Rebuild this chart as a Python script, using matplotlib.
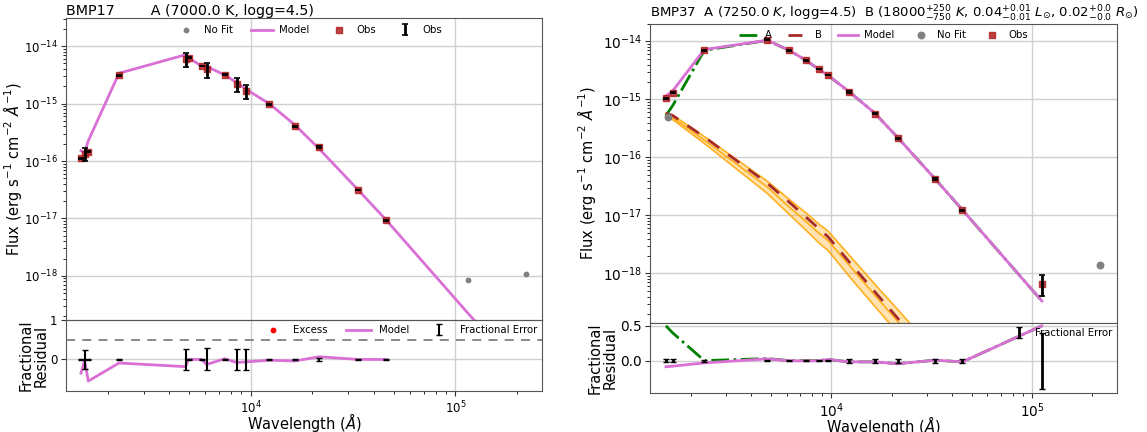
import matplotlib
matplotlib.use("Agg")
import matplotlib.pyplot as plt
import numpy as np

# ---- BMP17 (single A component) ----
wl17 = [1481, 1541, 1608, 2271, 4800, 4970, 5750, 6080, 7470, 8540, 9530, 12350, 16460, 21600, 33500, 46000]
obs17 = [1.12e-16, 1.35e-16, 1.46e-16, 3.1e-15, 6.0e-15, 6.3e-15, 4.5e-15, 3.95e-15, 3.2e-15, 2.16e-15,
         1.66e-15, 9.7e-16, 4.07e-16, 1.75e-16, 3.13e-17, 9.3e-18]
mod17 = [1.51e-16, 1.39e-16, 2.26e-16, 3.38e-15, 7.1e-15, 6.3e-15, 4.5e-15, 4.46e-15, 3.14e-15, 2.33e-15,
         1.76e-15, 9.9e-16, 4.23e-16, 1.63e-16, 3.13e-17, 9.3e-18]
ferr17 = [0.02, 0.25, 0.02, 0.02, 0.27, 0.01, 0.01, 0.28, 0.015, 0.27, 0.27, 0.015, 0.02, 0.03, 0.015, 0.015]
nofit_wl17 = [115600, 220800]
nofit17 = [8.3e-19, 1.07e-18]
nofit_mod17 = [2.2e-19, 1.7e-20]

# ---- BMP37 (A + B components) ----
wl37 = [1500, 1620, 2330, 4800, 6170, 7500, 8650, 9630, 12250, 16500, 21400, 33000, 45000, 112000]
obs37 = [1.06e-15, 1.30e-15, 7.05e-15, 1.08e-14, 7.05e-15, 4.71e-15, 3.33e-15, 2.65e-15, 1.35e-15,
         5.69e-16, 2.13e-16, 4.26e-17, 1.23e-17, 6.7e-19]
mod37 = [1.15e-15, 1.40e-15, 7.26e-15, 1.05e-14, 7.05e-15, 4.71e-15, 3.33e-15, 2.60e-15, 1.37e-15,
         5.78e-16, 2.22e-16, 4.22e-17, 1.25e-17, 3.35e-19]
A37 = [5.3e-16, 7.8e-16, 7.03e-15, 1.046e-14, 7.03e-15, 4.70e-15, 3.32e-15, 2.60e-15, 1.37e-15,
       5.78e-16, 2.22e-16, 4.22e-17, 1.25e-17, 3.35e-19]
B37 = [5.8e-16, 5.3e-16, 2.26e-16, 3.6e-17, 1.7e-17, 9.3e-18, 6.0e-18, 4.3e-18, 1.6e-18,
       4.8e-19, 1.7e-19, 3.0e-20, 8.5e-21, 2.0e-22]
# a few posterior draws of component B (orange band)
B37_hi = [5.8e-16, 5.4e-16, 2.3e-16, 3.9e-17, 1.9e-17, 1.1e-17, 7.2e-18, 5.4e-18, 2.1e-18,
          6.5e-19, 2.4e-19, 4.5e-20, 1.3e-20, 3e-22]
B37_mid = [5.4e-16, 4.9e-16, 2.0e-16, 3.1e-17, 1.4e-17, 7.8e-18, 5.0e-18, 3.7e-18, 1.4e-18,
           4.2e-19, 1.5e-19, 2.7e-20, 7.6e-21, 1.7e-22]
B37_lo = [5.0e-16, 4.5e-16, 1.75e-16, 2.4e-17, 1.05e-17, 5.5e-18, 3.4e-18, 2.5e-18, 9.0e-19,
          2.7e-19, 9.5e-20, 1.6e-20, 4.5e-21, 1e-22]
ferr37 = [0.02, 0.02, 0.015, 0.01, 0.01, 0.01, 0.01, 0.01, 0.03, 0.025, 0.03, 0.03, 0.03, 0.4]
nofit_wl37 = [1541, 218000]
nofit37 = [5.0e-16, 1.41e-18]

title17 = "BMP17        A (7000.0 K, logg=4.5)"
title37 = (r"BMP37  A (7250.0 $K$, logg=4.5)  B (18000$^{+250}_{-750}$ $K$, "
           r"0.04$^{+0.01}_{-0.01}$ $L_{\odot}$, 0.02$^{+0.0}_{-0.0}$ $R_{\odot}$)")

xlim = (1250, 2.65e5)
model_col = "orchid"
obs_col = "#b22222"
grid_col = "#d0d0d0"
leg_fs = 7.3

fig = plt.figure(figsize=(11.47, 4.32), dpi=100)


def style(ax, fs):
    ax.set_xscale("log")
    ax.set_xlim(*xlim)
    ax.grid(True, which="major", color=grid_col, lw=1)
    ax.set_axisbelow(True)
    for s in ax.spines.values():
        s.set_color("#555555")
    ax.tick_params(labelsize=fs, colors="#333333", labelcolor="black", pad=2.5)


def panel(main, res, wl, obs, mod, ferr, fs, ylab_x, rlab_x, xlab_y):
    obs = np.array(obs)
    mod = np.array(mod)
    ferr = np.array(ferr)
    style(main, fs)
    style(res, fs)
    main.set_yscale("log")
    main.tick_params(axis="x", labelbottom=False)
    main.set_ylabel(r"Flux (erg s$^{-1}$ cm$^{-2}$ $\AA^{-1}$)", fontsize=10.5)
    main.yaxis.set_label_coords(ylab_x, 0.5)
    res.set_ylabel("Fractional\nResidual", fontsize=10.5, linespacing=1.0)
    res.yaxis.set_label_coords(rlab_x, 0.5)
    res.set_xlabel(r"Wavelength ($\AA$)", fontsize=10.5, va="center")
    res.xaxis.set_label_coords(0.5, xlab_y)
    resid = (obs - mod) / obs
    return obs, mod, ferr, resid


# ---------------- left: BMP17 ----------------
ax1 = fig.add_axes([0.0575, 0.2593, 0.415, 0.6990])
rx1 = fig.add_axes([0.0575, 0.0949, 0.415, 0.1644])
o, m, fe, r = panel(ax1, rx1, wl17, obs17, mod17, ferr17, 8.5, -0.088, -0.036, -0.44)

ax1.scatter(nofit_wl17, nofit17, s=10, color="gray", label="No Fit", zorder=3)
ax1.plot(wl17 + nofit_wl17, mod17 + nofit_mod17, color=model_col, lw=2, label="Model", zorder=2)
ax1.scatter(wl17, o, marker="s", s=24, color=obs_col, alpha=0.85, label="Obs", zorder=3)
ax1.errorbar(wl17, o, yerr=o * fe, fmt="none", ecolor="black", elinewidth=2, capsize=2.5,
             capthick=1.2, label="Obs", zorder=4)
ax1.set_ylim(1.7e-19, 3.1e-14)
ax1.legend(loc="upper center", ncol=4, frameon=False, fontsize=leg_fs, handlelength=2.2,
           handletextpad=0.6, columnspacing=1.8, borderaxespad=0.3, bbox_to_anchor=(0.51, 1.0))
ax1.set_title(title17, loc="left", fontsize=10.3, pad=2)

rx1.axhline(0.5, color="gray", ls="--", lw=1.3, dashes=(5, 4))
rx1.scatter([], [], color="red", s=10, label="Excess")
rx1.plot(wl17, r, color=model_col, lw=2, label="Model")
rx1.errorbar(wl17, np.zeros(len(wl17)), yerr=fe, fmt="none", ecolor="black", elinewidth=1.5,
             capsize=2.5, label="Fractional Error")
rx1.set_ylim(-0.8, 1.0)
rx1.set_yticks([0, 1])
rx1.legend(loc="upper right", ncol=3, frameon=False, fontsize=leg_fs, handlelength=2.4,
           columnspacing=1.8, borderaxespad=0.1)

# ---------------- right: BMP37 ----------------
ax2 = fig.add_axes([0.5667, 0.2523, 0.4071, 0.6921])
rx2 = fig.add_axes([0.5667, 0.0903, 0.4071, 0.162])
o, m, fe, r = panel(ax2, rx2, wl37, obs37, mod37, ferr37, 9.8, -0.111, -0.069, -0.46)

ax2.fill_between(wl37, B37_lo, B37_hi, color="orange", alpha=0.3, lw=0, zorder=1)
for draw in (B37_hi, B37_mid, B37_lo):
    ax2.plot(wl37, draw, color="orange", lw=1.2, alpha=0.85, zorder=1)
ax2.plot(wl37, A37, color="green", ls="-.", lw=2, label="A", zorder=2)
ax2.plot(wl37, B37, color="#a52a2a", ls="--", lw=2, dashes=(5, 4), label="B", zorder=2)
ax2.plot(wl37, m, color=model_col, lw=2, label="Model", zorder=2)
ax2.scatter(nofit_wl37, nofit37, s=22, color="gray", label="No Fit", zorder=3)
ax2.scatter(wl37, o, marker="s", s=24, color=obs_col, alpha=0.85, label="Obs", zorder=3)
ax2.errorbar(wl37, o, yerr=o * fe, fmt="none", ecolor="black", elinewidth=2, capsize=2.5,
             capthick=1.2, zorder=4)
ax2.set_ylim(1.4e-19, 2.0e-14)
ax2.legend(loc="upper center", ncol=5, frameon=False, fontsize=leg_fs, handlelength=2.0,
           handletextpad=0.6, columnspacing=1.6, borderaxespad=0.2)
ax2.set_title(title37, loc="left", fontsize=9.5, pad=3)

rx2.plot(wl37, (o - np.array(A37)) / o, color="green", ls="-.", lw=2)
rx2.plot(wl37, r, color=model_col, lw=2)
rx2.errorbar(wl37, np.zeros(len(wl37)), yerr=fe, fmt="none", ecolor="black", elinewidth=2,
             capsize=2.5, label="Fractional Error")
rx2.set_ylim(-0.46, 0.54)
rx2.set_yticks([0.0, 0.5])
rx2.set_yticklabels(["0.0", "0.5"])
rx2.legend(loc="upper right", frameon=False, fontsize=leg_fs, handlelength=1.5,
           borderaxespad=0.1)

fig.savefig("out.png", dpi=100)
